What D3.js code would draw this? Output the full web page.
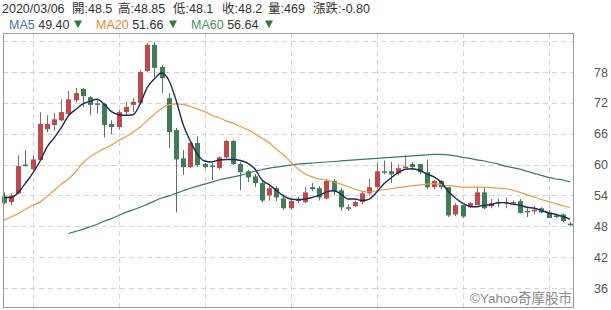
<!DOCTYPE html>
<html><head><meta charset="utf-8">
<script src="https://cdn.jsdelivr.net/npm/d3@7"></script>
<style>
html,body{margin:0;padding:0;background:#fff;}
svg{display:block;font-family:"Liberation Sans",Arial,"Noto Sans CJK TC",sans-serif;}
</style></head><body>
<svg id="c" width="611" height="310"></svg>
<script>
// ---- data ----
const opens  = [53.8,52.7,54.4,60.0,59.1,60.9,66.9,67.7,68.6,69.8,72.5,74.7,73.1,71.9,71.8,67.9,67.3,70.2,71.6,72.0,
                78.2,83.3,79.0,72.9,66.7,61.2,59.5,64.2,60.1,59.8,59.3,61.4,64.6,60.1,58.7,57.7,56.4,54.0,55.4,53.4,
                51.5,53.2,52.7,55.6,55.4,53.4,56.8,55.0,51.7,51.9,52.7,54.4,55.6,58.7,58.7,58.3,59.5,60.1,60.1,58.5,
                55.6,56.8,55.6,50.3,52.1,51.7,52.1,54.6,51.9,52.7,52.5,52.7,52.9,51.0,51.1,51.5,50.7,50.1,50.3,48.5];
const highs  = [54.6,54.4,61.8,62.8,61.8,70.2,69.6,70.0,72.7,74.3,74.9,74.9,73.3,72.5,72.0,68.6,70.6,72.2,72.9,78.4,
                83.7,83.8,79.3,73.9,67.1,62.8,64.4,65.5,60.3,60.3,61.6,64.8,64.8,60.5,59.0,58.2,56.9,55.8,55.8,54.2,
                53.4,53.7,55.6,56.4,55.8,57.2,57.2,55.4,52.2,53.0,54.8,57.2,60.3,60.8,60.5,60.0,61.8,60.5,60.1,61.0,
                57.0,57.0,55.6,52.5,52.2,52.7,55.6,55.6,53.3,53.3,53.6,53.0,53.3,51.5,52.0,51.7,51.1,50.5,50.5,48.85];
const lows   = [52.3,52.1,54.2,59.6,58.9,60.7,66.3,66.6,68.4,69.6,72.1,71.2,69.6,70.0,65.3,65.9,66.8,69.4,70.2,71.8,
                78.0,77.0,73.9,63.2,50.7,58.0,59.3,59.5,59.3,57.0,59.1,61.2,59.9,55.0,56.6,55.6,52.6,53.0,52.9,51.2,
                51.2,52.5,52.5,54.8,53.0,53.2,54.0,51.0,51.0,51.7,52.3,54.0,55.2,58.1,56.4,57.9,59.3,58.9,58.1,55.2,
                55.2,55.2,49.8,50.0,49.6,51.5,52.1,51.3,51.5,51.7,51.5,52.1,50.5,49.8,50.3,50.5,49.6,49.6,48.8,48.1];
const closes = [52.5,54.0,59.7,59.8,61.0,67.9,67.9,68.8,70.2,72.7,73.9,73.3,71.6,71.8,67.7,67.3,70.2,71.2,72.2,78.0,
                83.3,78.8,76.8,66.3,61.0,59.5,64.2,59.9,59.5,59.6,61.4,64.6,60.1,58.5,57.5,56.4,53.0,55.4,53.6,51.5,
                52.9,53.0,54.6,55.2,53.6,56.8,54.8,51.7,51.5,52.7,54.4,55.6,58.7,58.6,58.1,59.3,59.6,59.5,58.5,55.6,
                56.8,55.6,50.1,52.1,49.9,52.5,54.6,51.5,52.5,52.5,52.7,52.6,50.6,50.9,51.2,50.7,49.6,49.8,49.0,48.2];
const ma5    = [53.6,53.6,54.6,56.4,58.3,60.6,63.4,65.2,67.2,69.5,70.7,71.8,72.3,72.7,71.7,70.3,69.7,69.6,69.7,71.8,
                75.0,76.7,77.8,76.4,72.6,67.8,64.6,62.0,60.7,60.5,60.9,61.0,61.0,60.8,60.3,59.2,57.0,56.1,55.0,53.9,
                53.3,53.2,53.3,53.6,54.0,54.7,54.9,54.3,53.3,53.3,53.0,53.3,54.6,56.2,57.4,58.4,59.1,59.2,58.9,58.2,
                57.6,56.6,54.8,53.5,52.5,51.9,51.8,52.1,52.2,52.6,52.6,52.3,52.1,51.7,51.5,51.1,50.6,50.3,49.9,49.4];
const ma20   = [49.2,49.8,50.5,51.3,52.1,52.7,53.8,55.0,56.2,57.2,58.6,60.3,61.5,62.4,63.1,63.8,64.7,65.4,66.3,67.3,
                68.6,69.8,70.9,71.6,71.8,71.7,71.3,70.8,70.3,69.6,69.1,68.5,68.0,67.4,66.8,66.0,65.1,64.3,63.0,61.9,
                60.5,59.2,58.2,57.6,57.2,57.0,56.6,56.2,55.7,55.2,54.8,54.7,54.9,55.1,55.3,55.5,55.7,55.9,56.0,56.2,
                56.3,56.1,55.9,55.8,55.6,55.6,55.6,55.6,55.5,55.4,55.3,55.0,54.6,54.1,53.7,53.2,52.8,52.4,52.0,51.66];
const ma60   = [null,null,null,null,null,null,null,null,null,46.6,47.0,47.4,47.9,48.4,49.0,49.5,50.1,50.7,51.2,51.7,
                52.3,52.9,53.5,53.9,54.4,54.9,55.4,55.8,56.2,56.6,57.0,57.3,57.6,57.9,58.3,58.7,59.0,59.3,59.5,59.7,
                59.9,60.1,60.2,60.3,60.4,60.5,60.6,60.7,60.8,60.9,61.0,61.1,61.2,61.3,61.4,61.5,61.6,61.7,61.8,61.9,
                62.0,62.0,61.9,61.7,61.4,61.2,60.9,60.7,60.4,60.1,59.7,59.4,59.1,58.7,58.3,57.9,57.5,57.2,57.0,56.64];
const yTicks = [36,42,48,54,60,66,72,78];
const extraGrid = [84];
const xGridIdx = [4,16,28,40,52,64,76];
const headerTexts = ["2020/03/06","開:48.5","高:48.85","低:48.1","收:48.2","量:469","漲跌:-0.80"];
const maNames = ["MA5","MA20","MA60"];
const maValues = ["49.40","51.66","56.64"];
const watermark = "©Yahoo奇摩股市";

// ---- layout / style ----
const svg = d3.select("#c");
const frame = {l:3, r:573, t:33, b:307};
const x = d3.scaleLinear().domain([0, closes.length-1]).range([4, 570]);
const y = d3.scaleLinear().domain([36, 78]).range([288, 72]);
const RED = "#c4474c", GREEN = "#3f7d55";
const maColors = ["#1c2a5c", "#ee9a48", "#3f7a58"];
const legendColors = ["#4a6ea8", "#e8873c", "#4f9068"];

// header line 1
const headerX = [2, 72, 118, 173, 222, 268, 313];
svg.append("g").selectAll("text").data(headerTexts).join("text")
  .attr("x", (d,i)=>headerX[i]).attr("y", 13)
  .attr("font-size", 12.5).attr("fill", "#333").text(d=>d);

// legend line 2
const legX = [9, 96, 191];
const triX = [74, 169, 265];
const lg = svg.append("g");
maNames.forEach((n,i)=>{
  const t = lg.append("text").attr("x", legX[i]).attr("y", 29).attr("font-size", 12.5);
  t.append("tspan").attr("fill", legendColors[i]).text(n);
  t.append("tspan").attr("fill", "#333").text(" " + maValues[i]);
  lg.append("path")
    .attr("d", `M${triX[i]},20.5 L${triX[i]+8},20.5 L${triX[i]+4},28 Z`)
    .attr("fill", "#2e7d3c");
});

// grid
const g = svg.append("g");
g.selectAll("line.h").data(yTicks.concat(extraGrid)).join("line").attr("class","h")
  .attr("x1", frame.l).attr("x2", frame.r)
  .attr("y1", d=>Math.round(y(d))+0.5).attr("y2", d=>Math.round(y(d))+0.5)
  .attr("stroke", "#d4d4d4").attr("stroke-dasharray", "5,4");
g.selectAll("line.v").data(xGridIdx).join("line").attr("class","v")
  .attr("y1", frame.t).attr("y2", frame.b)
  .attr("x1", d=>Math.round(x(d))+0.5).attr("x2", d=>Math.round(x(d))+0.5)
  .attr("stroke", "#d4d4d4").attr("stroke-dasharray", "5,4");

// right axis labels
const yAxis = d3.axisRight(y).tickValues(yTicks).tickSize(0).tickPadding(0);
const ax = svg.append("g").attr("transform", `translate(594,0)`).call(yAxis);
ax.select(".domain").remove();
ax.selectAll("text").attr("font-size", 12.5).attr("fill", "#555")
  .attr("font-family", '"Liberation Sans",Arial,sans-serif');

// watermark
svg.append("text").attr("x", 572).attr("y", 303).attr("text-anchor","end")
  .attr("font-size", 13.5).attr("fill", "#8a8a8a").text(watermark);

// candles
const idx = d3.range(closes.length);
const cg = svg.append("g");
const bw = 5;
cg.selectAll("line.w").data(idx).join("line").attr("class","w")
  .attr("x1", i=>Math.round(x(i))+0.5).attr("x2", i=>Math.round(x(i))+0.5)
  .attr("y1", i=>y(highs[i])).attr("y2", i=>y(lows[i]))
  .attr("stroke", i=> closes[i]>=opens[i] ? "#8a6a6a" : "#5f6f63").attr("stroke-width", 1);
cg.selectAll("rect").data(idx).join("rect")
  .attr("x", i=>Math.round(x(i))-2)
  .attr("width", bw)
  .attr("y", i=>y(Math.max(opens[i],closes[i])))
  .attr("height", i=>Math.max(1.5, Math.abs(y(opens[i])-y(closes[i]))))
  .attr("fill", i=> closes[i]>=opens[i] ? RED : GREEN);

// moving averages
[ma60, ma20, ma5].forEach((arr, k)=>{
  const ci = 2-k;
  const line = d3.line().defined(d=>d!=null).x((d,i)=>x(i)).y(d=>y(d)).curve(d3.curveMonotoneX);
  svg.append("path").datum(arr).attr("d", line)
    .attr("fill","none").attr("stroke", maColors[ci]).attr("stroke-width", ci===0?1.4:1.2);
});

// frame
svg.append("rect").attr("x", frame.l+0.5).attr("y", frame.t+0.5)
  .attr("width", frame.r-frame.l).attr("height", frame.b-frame.t)
  .attr("fill","none").attr("stroke","#9a9a9a");
</script>
</body></html>
